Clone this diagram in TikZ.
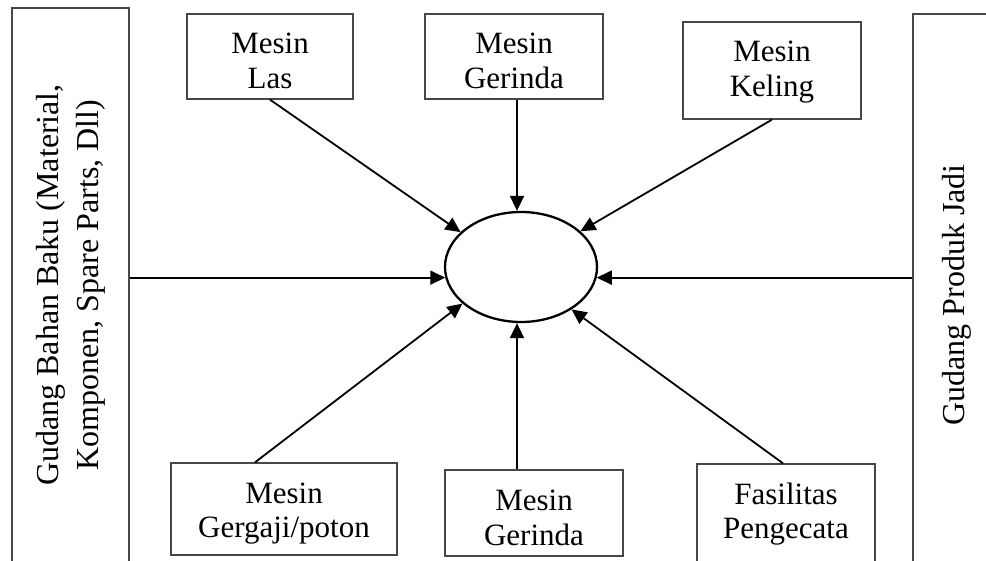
\documentclass[tikz,border=0pt]{standalone}
\usepackage{fontspec}
\setmainfont{Liberation Serif}
\usetikzlibrary{arrows.meta,shapes.geometric,calc,positioning}

\colorlet{boxgray}{black!72}

\begin{document}
\begin{tikzpicture}[x=1pt, y=1pt,
    mtext/.style = {align=center, inner sep=0pt, font=\fontsize{31}{35}\selectfont},
    wtext/.style = {align=center, inner sep=0pt, rotate=90, font=\fontsize{32}{40}\selectfont},
    % the base of a two-line node is its last line
    machine/.style 2 args = {shape=rectangle, draw=boxgray, line width=1.3pt,
      inner sep=0pt, path picture={
        \clip ([yshift=10pt]path picture bounding box.south west)
          rectangle (path picture bounding box.north east);
        \node[mtext, anchor=base] (#1) at ([yshift=-75pt]path picture bounding box.north) {#2};
      }},
    store/.style = {shape=rectangle, draw=boxgray, line width=1.3pt, inner sep=0pt},
    line/.style = {draw, line width=1.8pt, -{Triangle[length=15pt, width=14pt]}}]

  \useasboundingbox (0,0) rectangle (986,560);
  \clip (0,0) rectangle (986,560);

  % process in the middle
  \node[draw, ellipse, line width=2.3pt, inner sep=0pt,
        minimum width=152, minimum height=110] (hub) at (521,293) {};

  % warehouses left and right
  \node[store, minimum width=117, minimum height=554] (gbb) at (70.5,275) {};
  \node[wtext] (gbbtxt) at (gbb.center)
    {Gudang Bahan Baku (Material,\\Komponen, Spare Parts, Dll)};
  \node[store, minimum width=87, minimum height=562] (gpj) at (956.5,265) {};
  \node[wtext] (gpjtxt) at (gpj.center) {Gudang Produk Jadi};

  % machines on top
  \node[machine={lastxt}{Mesin\\Las}, minimum width=166, minimum height=85] (las) at (270,503.5) {};
  \node[machine={geratxt}{Mesin\\Gerinda}, minimum width=178, minimum height=85] (gera) at (514,503.5) {};
  \node[machine={keltxt}{Mesin\\Keling}, minimum width=178, minimum height=97] (keling) at (772,489.5) {};

  % machines below
  \node[machine={gertxt}{Mesin\\Gergaji/poton}, minimum width=226, minimum height=92] (gergaji) at (284,51) {};
  \node[machine={gerbtxt}{Mesin\\Gerinda}, minimum width=178, minimum height=86] (gerb) at (534,47) {};
  \node[machine={cattxt}{Fasilitas\\Pengecata}, minimum width=178, minimum height=102] (cat) at (786,45) {};

  \draw[line] (las.south) -- (hub.150);
  \draw[line] ([xshift=3pt]gera.south) -- ([xshift=3pt]gera.south |- hub.north);
  \draw[line] (keling.south) -- (hub.31);
  \draw[line] (gbb.east |- hub.188) -- (hub.188);
  \draw[line] (gpj.west |- hub.-8) -- (hub.-8);
  \draw[line] ([xshift=-29pt]gergaji.north) -- (hub.212);
  \draw[line] ([xshift=-17pt]gerb.north) -- ([xshift=-17pt]gerb.north |- hub.south);
  \draw[line] ([xshift=-3pt]cat.north) -- (hub.-40);
\end{tikzpicture}
\end{document}
